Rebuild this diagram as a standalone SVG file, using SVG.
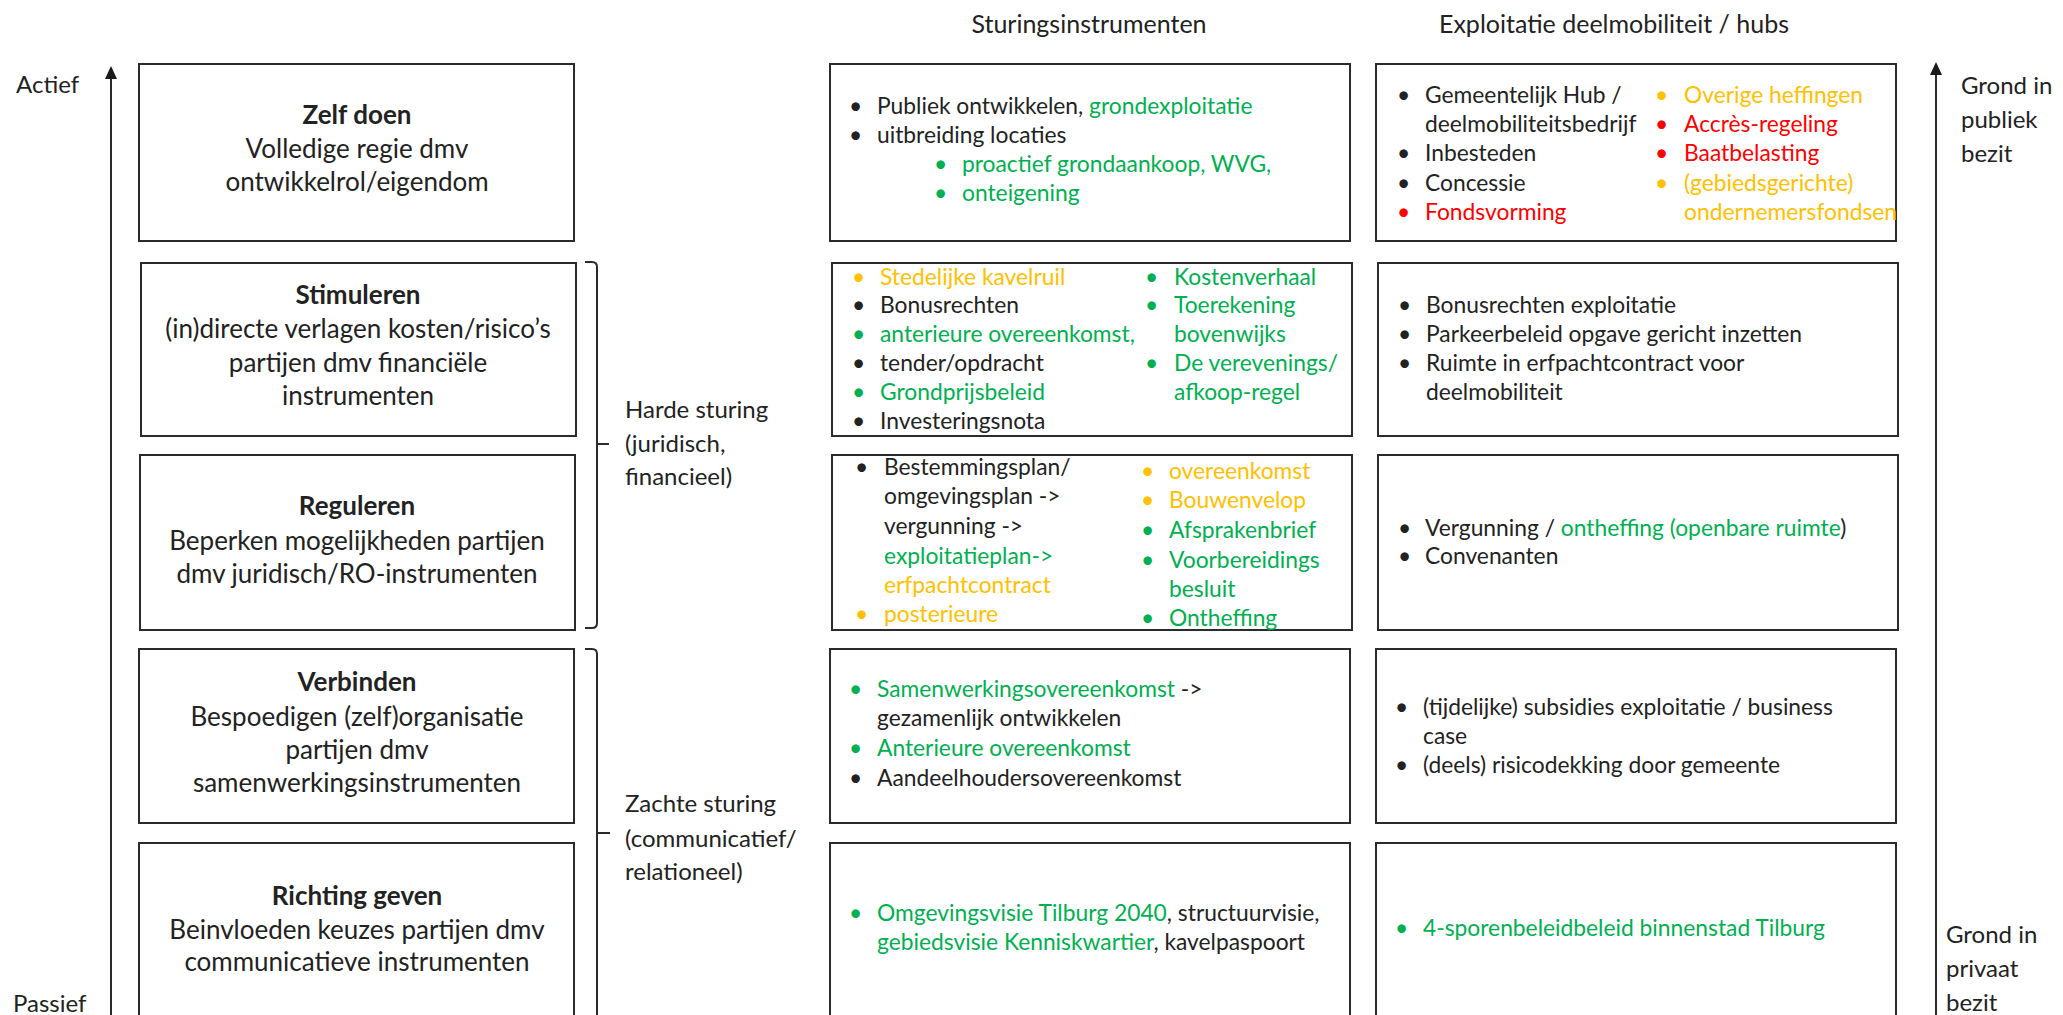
<svg xmlns="http://www.w3.org/2000/svg" width="2063" height="1015" viewBox="0 0 2063 1015">
<style>
text{font-family:Lato,"Open Sans","Liberation Sans",sans-serif;fill:#222}
.box{fill:none;stroke:#2b2b2b;stroke-width:2}
.line{fill:none;stroke:#2b2b2b;stroke-width:2}
.lc{font-size:26px;text-anchor:middle}
.lc .t{font-weight:bold}
.c{font-size:22.8px}
.h{font-size:25px}
.s{font-size:24px}
.g{fill:#00B050}
.o{fill:#FFC000}
.r{fill:#FF0000}
</style>
<defs>
<marker id="ah" viewBox="0 0 13 12" refX="1" refY="6" markerWidth="13" markerHeight="12" markerUnits="userSpaceOnUse" orient="auto">
<path d="M0,0 L13,6 L0,12 Z" fill="#1a1a1a"/>
</marker>
</defs>

<g id="headers">
<text class="h" x="1089" y="33" text-anchor="middle">Sturingsinstrumenten</text>
<text class="h" x="1614" y="33" text-anchor="middle">Exploitatie deelmobiliteit / hubs</text>
</g>

<g id="axis-labels">
<text class="s" x="16" y="93">Actief</text>
<text class="s" x="13" y="1012">Passief</text>
<text class="s" x="1961" y="94">Grond in</text>
<text class="s" x="1961" y="128">publiek</text>
<text class="s" x="1961" y="162">bezit</text>
<text class="s" x="1946" y="943">Grond in</text>
<text class="s" x="1946" y="977">privaat</text>
<text class="s" x="1946" y="1011">bezit</text>
</g>

<g id="connectors">
<line class="line" x1="111" y1="1015" x2="111" y2="78" marker-end="url(#ah)"/>
<line class="line" x1="1936" y1="1015" x2="1936" y2="74" marker-end="url(#ah)"/>
<path class="line" d="M585,262 L592,262 Q597,262 597,267 L597,623 Q597,628 592,628 L585,628 M597,444 L609,444"/>
<path class="line" d="M585,649 L592,649 Q597,649 597,654 L597,1015 M597,833 L610,833"/>
</g>

<g id="bracket-labels">
<text class="s" x="625" y="418">Harde sturing</text>
<text class="s" x="625" y="452">(juridisch,</text>
<text class="s" x="625" y="485">financieel)</text>
<text class="s" x="625" y="812">Zachte sturing</text>
<text class="s" x="625" y="847">(communicatief/</text>
<text class="s" x="625" y="880">relationeel)</text>
</g>

<g id="zelf-doen">
<rect class="box" x="139" y="64" width="435" height="177"/>
<text class="lc"><tspan class="t" x="357" y="124">Zelf doen</tspan><tspan x="357" y="158">Volledige regie dmv</tspan><tspan x="357" y="191">ontwikkelrol/eigendom</tspan></text>
</g>
<g id="stimuleren">
<rect class="box" x="141" y="263" width="435" height="173"/>
<text class="lc"><tspan class="t" x="358" y="304">Stimuleren</tspan><tspan x="358" y="338">(in)directe verlagen kosten/risico’s</tspan><tspan x="358" y="372">partijen dmv financiële</tspan><tspan x="358" y="405">instrumenten</tspan></text>
</g>
<g id="reguleren">
<rect class="box" x="140" y="455" width="435" height="175"/>
<text class="lc"><tspan class="t" x="357" y="515">Reguleren</tspan><tspan x="357" y="550">Beperken mogelijkheden partijen</tspan><tspan x="357" y="583">dmv juridisch/RO-instrumenten</tspan></text>
</g>
<g id="verbinden">
<rect class="box" x="139" y="649" width="435" height="174"/>
<text class="lc"><tspan class="t" x="357" y="691">Verbinden</tspan><tspan x="357" y="726">Bespoedigen (zelf)organisatie</tspan><tspan x="357" y="759">partijen dmv</tspan><tspan x="357" y="792">samenwerkingsinstrumenten</tspan></text>
</g>
<g id="richting-geven">
<rect class="box" x="139" y="843" width="435" height="190"/>
<text class="lc"><tspan class="t" x="357" y="905">Richting geven</tspan><tspan x="357" y="939">Beinvloeden keuzes partijen dmv</tspan><tspan x="357" y="971">communicatieve instrumenten</tspan></text>
</g>

<g id="sturing-zelf-doen">
<rect class="box" x="830" y="64" width="520" height="177"/>
<text class="c" x="849" y="114">•</text><text class="c" x="877" y="114">Publiek ontwikkelen, <tspan class="g">grondexploitatie</tspan></text>
<text class="c" x="849" y="143">•</text><text class="c" x="877" y="143">uitbreiding locaties</text>
<text class="c g" x="934" y="172">•</text><text class="c g" x="962" y="172">proactief grondaankoop, WVG,</text>
<text class="c g" x="934" y="201">•</text><text class="c g" x="962" y="201">onteigening</text>
</g>

<g id="sturing-stimuleren">
<rect class="box" x="832" y="263" width="520" height="173"/>
<text class="c o" x="852" y="285">•</text><text class="c o" x="880" y="285">Stedelijke kavelruil</text>
<text class="c" x="852" y="313">•</text><text class="c" x="880" y="313">Bonusrechten</text>
<text class="c g" x="852" y="342">•</text><text class="c g" x="880" y="342">anterieure overeenkomst,</text>
<text class="c" x="852" y="371">•</text><text class="c" x="880" y="371">tender/opdracht</text>
<text class="c g" x="852" y="400">•</text><text class="c g" x="880" y="400">Grondprijsbeleid</text>
<text class="c" x="852" y="429">•</text><text class="c" x="880" y="429">Investeringsnota</text>
<text class="c g" x="1145" y="285">•</text><text class="c g" x="1174" y="285">Kostenverhaal</text>
<text class="c g" x="1145" y="313">•</text><text class="c g" x="1174" y="313">Toerekening</text>
<text class="c g" x="1174" y="342">bovenwijks</text>
<text class="c g" x="1145" y="371">•</text><text class="c g" x="1174" y="371">De verevenings/</text>
<text class="c g" x="1174" y="400">afkoop-regel</text>
</g>

<g id="sturing-reguleren">
<rect class="box" x="832" y="455" width="520" height="175"/>
<text class="c" x="855" y="475">•</text><text class="c" x="884" y="475">Bestemmingsplan/</text>
<text class="c" x="884" y="504">omgevingsplan -&gt;</text>
<text class="c" x="884" y="534">vergunning -&gt;</text>
<text class="c g" x="884" y="564">exploitatieplan-&gt;</text>
<text class="c o" x="884" y="593">erfpachtcontract</text>
<text class="c o" x="855" y="622">•</text><text class="c o" x="884" y="622">posterieure</text>
<text class="c o" x="1141" y="479">•</text><text class="c o" x="1169" y="479">overeenkomst</text>
<text class="c o" x="1141" y="508">•</text><text class="c o" x="1169" y="508">Bouwenvelop</text>
<text class="c g" x="1141" y="538">•</text><text class="c g" x="1169" y="538">Afsprakenbrief</text>
<text class="c g" x="1141" y="568">•</text><text class="c g" x="1169" y="568">Voorbereidings</text>
<text class="c g" x="1169" y="597">besluit</text>
<text class="c g" x="1141" y="626">•</text><text class="c g" x="1169" y="626">Ontheffing</text>
</g>

<g id="sturing-verbinden">
<rect class="box" x="830" y="649" width="520" height="174"/>
<text class="c g" x="849" y="697">•</text><text class="c" x="877" y="697"><tspan class="g">Samenwerkingsovereenkomst</tspan> -&gt;</text>
<text class="c" x="877" y="726">gezamenlijk ontwikkelen</text>
<text class="c g" x="849" y="756">•</text><text class="c g" x="877" y="756">Anterieure overeenkomst</text>
<text class="c" x="849" y="786">•</text><text class="c" x="877" y="786">Aandeelhoudersovereenkomst</text>
</g>

<g id="sturing-richting-geven">
<rect class="box" x="830" y="843" width="520" height="190"/>
<text class="c g" x="849" y="921">•</text><text class="c" x="877" y="921"><tspan class="g">Omgevingsvisie Tilburg 2040</tspan>, structuurvisie,</text>
<text class="c" x="877" y="950"><tspan class="g">gebiedsvisie Kenniskwartier</tspan>, kavelpaspoort</text>
</g>

<g id="exploitatie-zelf-doen">
<rect class="box" x="1376" y="64" width="520" height="177"/>
<text class="c" x="1397" y="103">•</text><text class="c" x="1425" y="103">Gemeentelijk Hub /</text>
<text class="c" x="1425" y="132">deelmobiliteitsbedrijf</text>
<text class="c" x="1397" y="161">•</text><text class="c" x="1425" y="161">Inbesteden</text>
<text class="c" x="1397" y="191">•</text><text class="c" x="1425" y="191">Concessie</text>
<text class="c r" x="1397" y="220">•</text><text class="c r" x="1425" y="220">Fondsvorming</text>
<text class="c o" x="1655" y="103">•</text><text class="c o" x="1684" y="103">Overige heffingen</text>
<text class="c r" x="1655" y="132">•</text><text class="c r" x="1684" y="132">Accrès-regeling</text>
<text class="c r" x="1655" y="161">•</text><text class="c r" x="1684" y="161">Baatbelasting</text>
<text class="c o" x="1655" y="191">•</text><text class="c o" x="1684" y="191">(gebiedsgerichte)</text>
<text class="c o" x="1684" y="220">ondernemersfondsen</text>
</g>

<g id="exploitatie-stimuleren">
<rect class="box" x="1378" y="263" width="520" height="173"/>
<text class="c" x="1398" y="313">•</text><text class="c" x="1426" y="313">Bonusrechten exploitatie</text>
<text class="c" x="1398" y="342">•</text><text class="c" x="1426" y="342">Parkeerbeleid opgave gericht inzetten</text>
<text class="c" x="1398" y="371">•</text><text class="c" x="1426" y="371">Ruimte in erfpachtcontract voor</text>
<text class="c" x="1426" y="400">deelmobiliteit</text>
</g>

<g id="exploitatie-reguleren">
<rect class="box" x="1378" y="455" width="520" height="175"/>
<text class="c" x="1398" y="536">•</text><text class="c" x="1425" y="536">Vergunning / <tspan class="g">ontheffing (openbare ruimte</tspan>)</text>
<text class="c" x="1398" y="564">•</text><text class="c" x="1425" y="564">Convenanten</text>
</g>

<g id="exploitatie-verbinden">
<rect class="box" x="1376" y="649" width="520" height="174"/>
<text class="c" x="1395" y="715">•</text><text class="c" x="1423" y="715">(tijdelijke) subsidies exploitatie / business</text>
<text class="c" x="1423" y="744">case</text>
<text class="c" x="1395" y="773">•</text><text class="c" x="1423" y="773">(deels) risicodekking door gemeente</text>
</g>

<g id="exploitatie-richting-geven">
<rect class="box" x="1376" y="843" width="520" height="190"/>
<text class="c g" x="1395" y="936">•</text><text class="c g" x="1423" y="936">4-sporenbeleidbeleid binnenstad Tilburg</text>
</g>
</svg>
